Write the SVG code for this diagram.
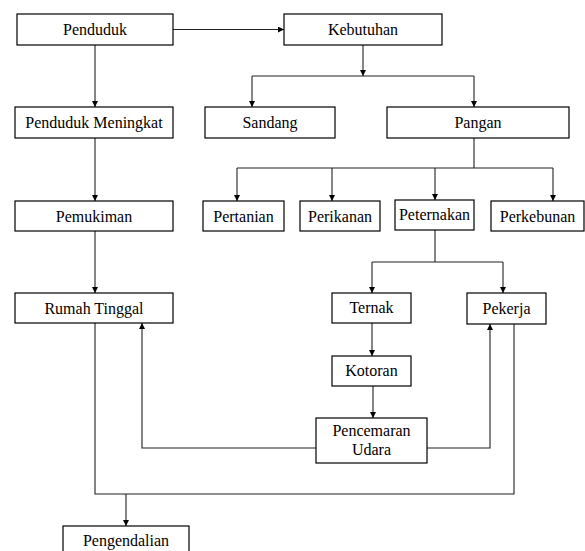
<svg xmlns="http://www.w3.org/2000/svg" width="585" height="551" viewBox="0 0 585 551">
<defs>
<marker id="ah" markerUnits="userSpaceOnUse" markerWidth="6" markerHeight="6" refX="6" refY="3" orient="auto">
<path d="M0,0 L6,3 L0,6 z" fill="#000"/>
</marker>
<style>
.box{fill:#fff;stroke:#000;stroke-width:1.2}
.t{font-size:16px;fill:#000;text-anchor:middle}
.c{fill:none;stroke:#222;stroke-width:1.1}
.a{marker-end:url(#ah)}
</style>
</defs>
<rect width="585" height="551" fill="#fff"/>
<g id="connectors">
<path class="c a" d="M173,29.5 H284"/>
<path class="c a" d="M95,45 V107"/>
<path class="c a" d="M363,45 V76"/>
<path class="c" d="M252,76 H474"/>
<path class="c a" d="M252,76 V107"/>
<path class="c a" d="M474,76 V107"/>
<path class="c" d="M474,138 V168 M237,168 H553"/>
<path class="c a" d="M237,168 V201"/>
<path class="c a" d="M332,168 V201"/>
<path class="c a" d="M435,168 V200"/>
<path class="c a" d="M553,168 V201"/>
<path class="c" d="M435,230 V262 M372,262 H503"/>
<path class="c a" d="M372,262 V293"/>
<path class="c a" d="M503,262 V293"/>
<path class="c a" d="M95,138 V201"/>
<path class="c a" d="M95,231 V293"/>
<path class="c a" d="M372,323 V356"/>
<path class="c a" d="M373,386 V418"/>
<path class="c a" d="M316,448 H142 V323"/>
<path class="c a" d="M427,448 H490 V324"/>
<path class="c" d="M95,323 V494 H514 V324"/>
<path class="c a" d="M126,494 V526"/>
</g>
<g font-family="'Liberation Serif', 'Times New Roman', serif">
<g id="penduduk"><rect class="box" x="17" y="14" width="156" height="31"/><text class="t" x="95" y="35">Penduduk</text></g>
<g id="kebutuhan"><rect class="box" x="284" y="14" width="158" height="31"/><text class="t" x="363" y="35">Kebutuhan</text></g>
<g id="penduduk-meningkat"><rect class="box" x="15" y="107" width="158" height="31"/><text class="t" x="94" y="128">Penduduk Meningkat</text></g>
<g id="sandang"><rect class="box" x="205" y="107" width="130" height="31"/><text class="t" x="270" y="128">Sandang</text></g>
<g id="pangan"><rect class="box" x="387" y="107" width="182" height="31"/><text class="t" x="478" y="128">Pangan</text></g>
<g id="pertanian"><rect class="box" x="203" y="201" width="81" height="30"/><text class="t" x="243.5" y="222">Pertanian</text></g>
<g id="perikanan"><rect class="box" x="300" y="201" width="80" height="30"/><text class="t" x="340" y="222">Perikanan</text></g>
<g id="peternakan"><rect class="box" x="395" y="200" width="79" height="30"/><text class="t" x="434.5" y="220">Peternakan</text></g>
<g id="perkebunan"><rect class="box" x="491" y="201" width="93" height="30"/><text class="t" x="537.5" y="222">Perkebunan</text></g>
<g id="pemukiman"><rect class="box" x="15" y="201" width="158" height="30"/><text class="t" x="94" y="222">Pemukiman</text></g>
<g id="rumah-tinggal"><rect class="box" x="15" y="293" width="158" height="30"/><text class="t" x="94" y="314">Rumah Tinggal</text></g>
<g id="ternak"><rect class="box" x="332" y="293" width="79" height="30"/><text class="t" x="371.5" y="313">Ternak</text></g>
<g id="pekerja"><rect class="box" x="467" y="293" width="79" height="31"/><text class="t" x="506.5" y="314">Pekerja</text></g>
<g id="kotoran"><rect class="box" x="332" y="356" width="79" height="30"/><text class="t" x="371.5" y="376">Kotoran</text></g>
<g id="pencemaran-udara"><rect class="box" x="316" y="418" width="111" height="45"/><text class="t" x="371.5" y="436">Pencemaran</text><text class="t" x="371.5" y="455">Udara</text></g>
<g id="pengendalian"><rect class="box" x="63" y="526" width="126" height="30"/><text class="t" x="126" y="546">Pengendalian</text></g>
</g>
</svg>
